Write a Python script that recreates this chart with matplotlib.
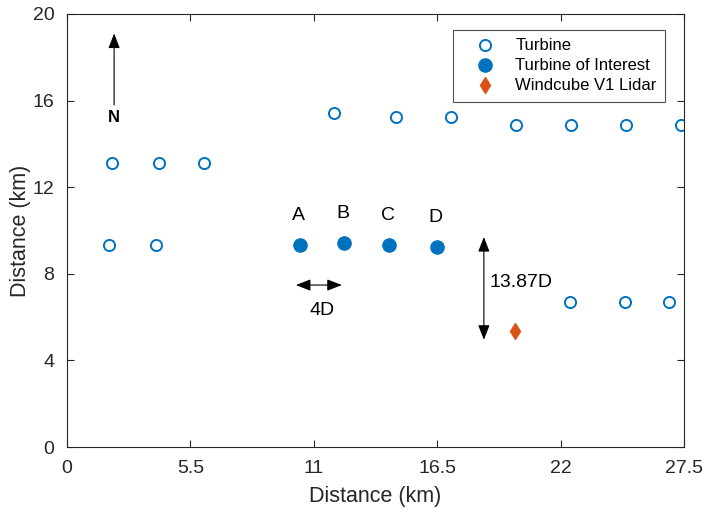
import matplotlib.pyplot as plt
import numpy as np

plt.rcParams['font.family'] = ['Liberation Sans', 'DejaVu Sans']

# turbine positions (km)
turbine_x = [2.0, 4.1, 6.1, 1.85, 3.95, 11.9, 14.65, 17.1, 20.0, 22.45, 24.9, 27.35, 22.4, 24.85, 26.85]
turbine_y = [13.1, 13.1, 13.1, 9.33, 9.33, 15.45, 15.22, 15.22, 14.87, 14.87, 14.87, 14.87, 6.7, 6.7, 6.7]

# turbines of interest
toi_names = ['A', 'B', 'C', 'D']
toi_x = [10.38, 12.35, 14.35, 16.48]
toi_y = [9.33, 9.42, 9.33, 9.24]

# lidar location
lidar_x = [19.95]
lidar_y = [5.36]

xticks = [0, 5.5, 11, 16.5, 22, 27.5]
yticks = [0, 4, 8, 12, 16, 20]

blue = '#0072BD'
orange = '#D95319'
dark = '#262626'

fig = plt.figure(figsize=(7.03, 5.09), dpi=100)
ax = fig.add_axes([0.0953, 0.1218, 0.8777, 0.8507])

ax.plot(turbine_x, turbine_y, 'o', mfc='none', mec=blue, ms=8, mew=1.4, ls='none', label='Turbine')
ax.plot(toi_x, toi_y, 'o', color=blue, ms=9.5, ls='none', label='Turbine of Interest')
ax.plot(lidar_x, lidar_y, 'd', color=orange, ms=8, ls='none', label='Windcube V1 Lidar')

for name, x, y in zip(toi_names, toi_x, toi_y):
    ax.text(x - 0.05, y + 0.95, name, ha='center', va='bottom', fontsize=14)

head = 'head_length=0.9,head_width=0.35'

# north arrow
ax.annotate('', xy=(2.1, 19.1), xytext=(2.1, 15.8),
            arrowprops=dict(arrowstyle='-|>,' + head, color='k', lw=0.8, shrinkA=0, shrinkB=0))
ax.text(2.1, 15.2, 'N', ha='center', va='center', fontsize=12, fontweight='bold')

# 4D spacing arrow
ax.annotate('', xy=(12.25, 7.48), xytext=(10.2, 7.48),
            arrowprops=dict(arrowstyle='<|-|>,' + head, color='k', lw=0.8, shrinkA=0, shrinkB=0))
ax.text(11.35, 6.3, '4D', ha='center', va='center', fontsize=14)

# lidar distance arrow
ax.annotate('', xy=(18.58, 4.95), xytext=(18.58, 9.7),
            arrowprops=dict(arrowstyle='<|-|>,' + head, color='k', lw=0.8, shrinkA=0, shrinkB=0))
ax.text(18.85, 7.6, '13.87D', ha='left', va='center', fontsize=14)

ax.set_xlim(0, 27.5)
ax.set_ylim(0, 20)
ax.set_xticks(xticks)
ax.set_xticklabels(['0', '5.5', '11', '16.5', '22', '27.5'])
ax.set_yticks(yticks)
ax.tick_params(direction='in', top=True, right=True, length=5, width=0.8,
               labelsize=14, colors=dark, labelcolor=dark)
ax.tick_params(axis='x', pad=9)
ax.tick_params(axis='y', pad=9)
for s in ax.spines.values():
    s.set_linewidth(0.8)
    s.set_color(dark)
ax.set_xlabel('Distance (km)', fontsize=15.5, color=dark, labelpad=7)
ax.set_ylabel('Distance (km)', fontsize=15.5, color=dark, labelpad=1)

leg = ax.legend(loc='upper right', bbox_to_anchor=(0.969, 0.963), borderaxespad=0,
                fontsize=12, frameon=True, fancybox=False, edgecolor=dark,
                handletextpad=0.35, borderpad=0.5, labelspacing=0.3, handlelength=2.9)
leg.get_frame().set_linewidth(0.8)

fig.savefig('out.png', dpi=100)
